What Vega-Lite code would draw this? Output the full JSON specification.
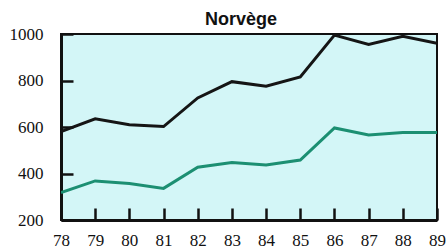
{
  "$schema": "https://vega.github.io/schema/vega-lite/v6.json",
  "width": 376,
  "height": 186,
  "autosize": {"type": "none"},
  "padding": {"left": 61, "top": 34, "right": 9, "bottom": 29},
  "background": "white",
  "title": {
    "text": "Norvège",
    "font": "Liberation Sans",
    "fontSize": 18,
    "fontWeight": "bold",
    "color": "#111111",
    "anchor": "middle",
    "baseline": "bottom",
    "offset": -22,
    "dx": -8
  },
  "config": {
    "view": {"fill": "#d3f6f7", "stroke": "#111111", "strokeWidth": 2},
    "axis": {
      "grid": false,
      "domainColor": "#111111",
      "domainWidth": 3,
      "tickColor": "#111111",
      "tickWidth": 2.5,
      "tickSize": -12,
      "labelFont": "Liberation Sans Narrow",
      "labelFontSize": 17,
      "labelColor": "#111111",
      "title": null
    }
  },
  "data": {
    "values": [
      {"year": 78, "series": "total", "value": 580},
      {"year": 79, "series": "total", "value": 635},
      {"year": 80, "series": "total", "value": 610},
      {"year": 81, "series": "total", "value": 602},
      {"year": 82, "series": "total", "value": 725},
      {"year": 83, "series": "total", "value": 795},
      {"year": 84, "series": "total", "value": 775},
      {"year": 85, "series": "total", "value": 815},
      {"year": 86, "series": "total", "value": 995},
      {"year": 87, "series": "total", "value": 955},
      {"year": 88, "series": "total", "value": 990},
      {"year": 89, "series": "total", "value": 960},
      {"year": 78, "series": "part", "value": 318},
      {"year": 79, "series": "part", "value": 368},
      {"year": 80, "series": "part", "value": 357},
      {"year": 81, "series": "part", "value": 336},
      {"year": 82, "series": "part", "value": 427},
      {"year": 83, "series": "part", "value": 447},
      {"year": 84, "series": "part", "value": 437},
      {"year": 85, "series": "part", "value": 458},
      {"year": 86, "series": "part", "value": 596},
      {"year": 87, "series": "part", "value": 566},
      {"year": 88, "series": "part", "value": 576},
      {"year": 89, "series": "part", "value": 576}
    ]
  },
  "mark": {"type": "line", "strokeWidth": 3, "strokeJoin": "miter", "clip": true},
  "encoding": {
    "x": {
      "field": "year",
      "type": "quantitative",
      "scale": {"domain": [78, 89], "nice": false, "zero": false},
      "axis": {"values": [78,79,80,81,82,83,84,85,86,87,88,89], "format": "d", "labelPadding": 24, "labelFlush": false, "labelOverlap": false}
    },
    "y": {
      "field": "value",
      "type": "quantitative",
      "scale": {"domain": [200, 1000], "nice": false, "zero": false},
      "axis": {"values": [200,400,600,800,1000], "format": "d", "labelPadding": 30, "labelBaseline": "middle"}
    },
    "color": {
      "field": "series",
      "type": "nominal",
      "scale": {"domain": ["total", "part"], "range": ["#151515", "#1c8f72"]},
      "legend": null
    }
  }
}
